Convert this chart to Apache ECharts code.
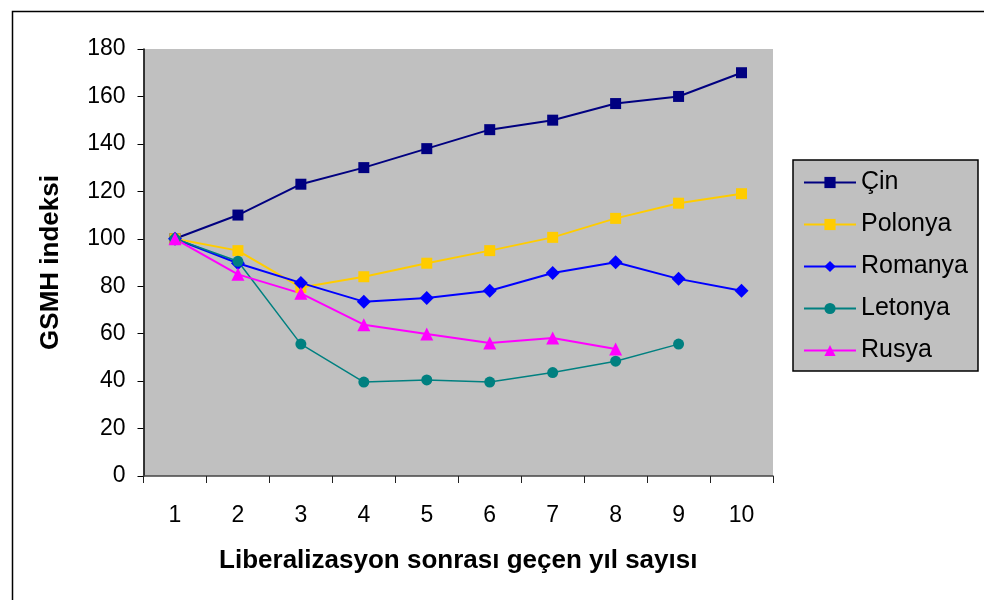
<!DOCTYPE html>
<html>
<head>
<meta charset="utf-8">
<script src="https://cdn.jsdelivr.net/npm/echarts@6/dist/echarts.min.js"></script>
<style>
html,body{margin:0;padding:0;background:#fff;}
#c{width:984px;height:600px;}
</style>
</head>
<body>
<div id="c"></div>
<script>
const categories = ['1','2','3','4','5','6','7','8','9','10'];
const cin = [100, 110, 123, 130, 138, 146, 150, 157, 160, 170];
const polonya = [100, 95, 79.5, 84, 89.7, 95, 100.6, 108.6, 115, 119];
const romanya = [100, 89.7, 81.4, 73.5, 75, 78.1, 85.6, 90.1, 83.1, 78.1];
const letonya = [100, 90.5, 55.6, 39.6, 40.5, 39.6, 43.6, 48.4, 55.6, null];
const rusya = [100, 85, 77, 63.8, 59.9, 56.1, 58.2, 53.5, null, null];
const seriesNames = ['Çin', 'Polonya', 'Romanya', 'Letonya', 'Rusya'];
const yTicks = {min: 0, max: 180, interval: 20};

const font = 'Liberation Sans, Arial, sans-serif';
const chart = echarts.init(document.getElementById('c'), null, {renderer: 'canvas'});

function mk(name, data, color, symbol, size, width) {
  return {
    name: name, type: 'line', data: data,
    symbol: symbol, symbolSize: size,
    lineStyle: {color: color, width: width},
    itemStyle: {color: color},
    connectNulls: false,
    animation: false
  };
}

chart.setOption({
  animation: false,
  backgroundColor: '#fff',
  graphic: [{
    type: 'rect', left: 10, top: 9,
    shape: {x: 0, y: 0, width: 1000, height: 1000},
    style: {fill: 'none', stroke: '#000', lineWidth: 1.5},
    silent: true
  }],
  grid: {
    left: 143.5, top: 49, width: 629.5, height: 427,
    show: true, backgroundColor: '#C0C0C0', borderWidth: 0
  },
  legend: {
    orient: 'vertical', left: 793, top: 160,
    backgroundColor: '#C0C0C0', borderColor: '#000', borderWidth: 1.5,
    padding: [10, 10, 8, 10],
    itemWidth: 52, itemHeight: 14, itemGap: 17,
    textStyle: {fontFamily: font, fontSize: 25, color: '#000', lineHeight: 24},
    data: seriesNames
  },
  xAxis: {
    type: 'category', data: categories, boundaryGap: true,
    axisLine: {lineStyle: {color: '#444', width: 1.5}},
    axisTick: {show: true, inside: false, length: 7, interval: 0, lineStyle: {color: '#222'}},
    axisLabel: {fontFamily: font, fontSize: 23, color: '#000', margin: 28},
    splitLine: {show: false},
    name: 'Liberalizasyon sonrası geçen yıl sayısı',
    nameLocation: 'middle', nameGap: 72,
    nameTextStyle: {fontFamily: font, fontSize: 26, fontWeight: 'bold', color: '#000'}
  },
  yAxis: {
    type: 'value', min: yTicks.min, max: yTicks.max, interval: yTicks.interval,
    axisLine: {show: true, lineStyle: {color: '#000', width: 1.5}},
    axisTick: {show: true, inside: false, length: 6, lineStyle: {color: '#000'}},
    axisLabel: {fontFamily: font, fontSize: 23, color: '#000', margin: 18},
    splitLine: {show: false},
    name: 'GSMH indeksi',
    nameLocation: 'middle', nameGap: 80, nameRotate: 90,
    nameTextStyle: {fontFamily: font, fontSize: 26, fontWeight: 'bold', color: '#000'}
  },
  series: [
    mk('Çin', cin, '#000080', 'rect', 11, 2),
    mk('Polonya', polonya, '#FFCC00', 'rect', 11, 2),
    mk('Romanya', romanya, '#0000FF', 'diamond', 14, 2),
    mk('Letonya', letonya, '#008080', 'circle', 11, 1.5),
    mk('Rusya', rusya, '#FF00FF', 'triangle', 13, 2)
  ]
});
</script>
</body>
</html>
